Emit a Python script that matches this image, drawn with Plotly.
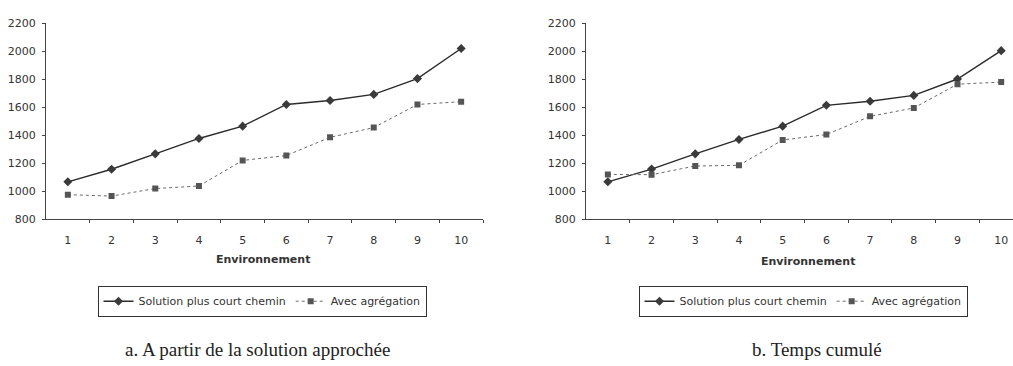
import plotly.graph_objects as go

environnements = [1, 2, 3, 4, 5, 6, 7, 8, 9, 10]

# a. A partir de la solution approchée
court_chemin_a = [1067, 1157, 1267, 1377, 1465, 1620, 1648, 1692, 1805, 2020]
agregation_a = [975, 965, 1019, 1037, 1220, 1255, 1385, 1455, 1620, 1640]

# b. Temps cumulé
court_chemin_b = [1067, 1158, 1267, 1370, 1465, 1614, 1643, 1685, 1802, 2005]
agregation_b = [1120, 1118, 1180, 1185, 1366, 1405, 1535, 1595, 1765, 1780]

y_ticks = [800, 1000, 1200, 1400, 1600, 1800, 2000, 2200]

W, H = 1013, 366
LINE = "#2b2b2b"
DOT = "#6a6a6a"
TXT = "#333333"
SANS = "DejaVu Sans, Arial"
SERIF = "Liberation Serif, Times New Roman"

fig = go.Figure()

panels = [
    ("x", "y", "legend", court_chemin_a, agregation_a),
    ("x2", "y2", "legend2", court_chemin_b, agregation_b),
]
for xa, ya, leg, cc, ag in panels:
    fig.add_trace(go.Scatter(
        x=environnements, y=cc, xaxis=xa, yaxis=ya, legend=leg,
        name="Solution plus court chemin", mode="lines+markers",
        line=dict(color=LINE, width=1.4),
        marker=dict(symbol="diamond", size=7, color="#3a3a3a"),
    ))
    fig.add_trace(go.Scatter(
        x=environnements, y=ag, xaxis=xa, yaxis=ya, legend=leg,
        name="Avec agrégation", mode="lines+markers",
        line=dict(color=DOT, width=1, dash="dot"),
        marker=dict(symbol="square", size=6, color="#555555"),
    ))

y_dom = [(H - 221) / H, (H - 18) / H]

def xaxis(domain, rng, anchor):
    return dict(
        domain=domain, range=rng, anchor=anchor,
        tickmode="array", tickvals=environnements,
        ticks="", showgrid=False, zeroline=False,
        showline=True, linecolor="#444", linewidth=1.2,
        ticklabelstandoff=11,
        tickfont=dict(family=SANS, size=11, color=TXT),
        minor=dict(tickmode="array", tickvals=[v + 0.5 for v in environnements],
                   ticks="outside", ticklen=3, tickcolor="#444", showgrid=False),
    )

def yaxis(anchor):
    return dict(
        domain=y_dom, range=[800, 2200], anchor=anchor,
        tickmode="array", tickvals=y_ticks,
        ticks="outside", ticklen=3, tickcolor="#444",
        showgrid=False, zeroline=False,
        showline=True, linecolor="#444", linewidth=1.2,
        ticklabelstandoff=4,
        tickfont=dict(family=SANS, size=11, color=TXT),
    )

def legend_box(cx):
    return dict(
        orientation="h", x=cx / W, xanchor="center", y=(H - 290) / H, yanchor="top",
        bordercolor="#333", borderwidth=1, bgcolor="white",
        font=dict(family=SANS, size=11, color=TXT),
        itemwidth=30, tracegroupgap=0,
    )

fig.update_layout(
    width=W, height=H,
    margin=dict(l=0, r=0, t=0, b=0),
    paper_bgcolor="white", plot_bgcolor="white",
    xaxis=xaxis([46 / W, 483 / W], [0.5, 10.5], "y"),
    yaxis=yaxis("x"),
    xaxis2=xaxis([586 / W, 1.0], [0.5, 10.27], "y2"),
    yaxis2=yaxis("x2"),
    legend=legend_box(262),
    legend2=legend_box(803),
    showlegend=True,
)

annotations = [
    dict(text="<b>Environnement</b>", x=263 / W, y=(H - 263) / H,
         font=dict(family=SANS, size=11, color=TXT)),
    dict(text="<b>Environnement</b>", x=808 / W, y=(H - 265) / H,
         font=dict(family=SANS, size=11, color=TXT)),
    dict(text="a. A partir de la solution approchée", x=257 / W, y=(H - 356) / H,
         font=dict(family=SERIF, size=19, color="#222")),
    dict(text="b. Temps cumulé", x=817 / W, y=(H - 356) / H,
         font=dict(family=SERIF, size=19, color="#222")),
]
for a in annotations:
    fig.add_annotation(xref="paper", yref="paper", showarrow=False,
                       xanchor="center", yanchor="middle", **a)

fig.write_html("out.html")
